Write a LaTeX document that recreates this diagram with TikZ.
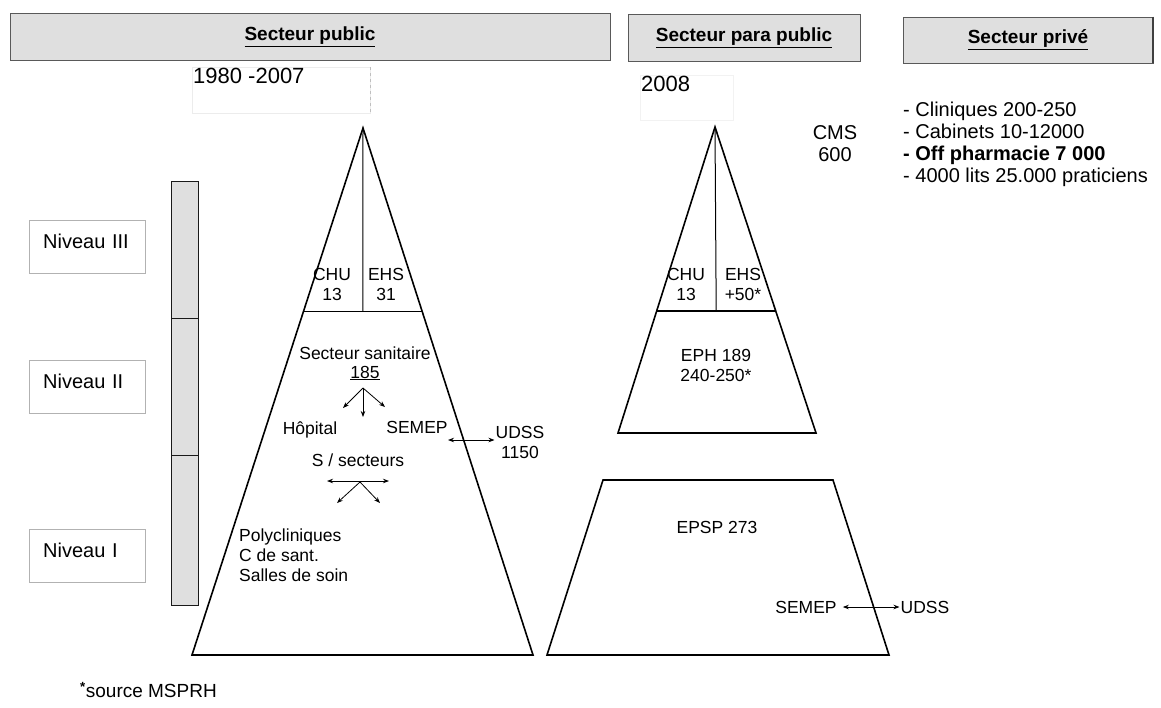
\documentclass[tikz,border=0pt]{standalone}
\usepackage{fontspec}
\setmainfont{Liberation Sans}
\usepackage{tikz}
\usetikzlibrary{arrows.meta,positioning,calc}

\tikzset{
	hdr/.style={draw=gray!70!black, thick, fill=gray!25, minimum height=47pt, font=\bfseries\fontsize{19}{22}\selectfont},
	lvl/.style={draw=gray!60, minimum width=116pt, minimum height=53pt, text width=88pt, inner xsep=14pt, align=left, text depth=10pt, font=\fontsize{20}{24}\selectfont},
	lbl/.style={font=\fontsize{17.5}{20}\selectfont, align=center, inner sep=1pt},
	pyr/.style={line width=1.6pt},
	tip/.style={-{Stealth[length=6pt,width=4.5pt]}, line width=0.8pt},
	both/.style={{Stealth[length=6pt,width=4.5pt]}-{Stealth[length=6pt,width=4.5pt]}, line width=0.8pt}
}

\begin{document}
\begin{tikzpicture}[x=1pt, y=-1pt]
		\useasboundingbox (0,0) rectangle (1161,707);
		\node[hdr, minimum width=600pt] (pub) at (310,36.5) {\underline{Secteur public}};
		\node[hdr, minimum width=232pt] (para) at (744,37.5) {\underline{Secteur para public}};
		\node[hdr, minimum width=250pt, minimum height=46pt] (prive) at (1028,40) {\underline{Secteur privé}};
		\draw[line width=2pt, gray!50!black] (prive.north east) -- (prive.south east);
		\node[draw=gray!15, minimum width=178pt, minimum height=46pt, anchor=north west] (per1) at (192,67) {};
		\draw[gray!50, dashed] (per1.north east) -- (per1.south east);
		\node[font=\fontsize{22}{26}\selectfont, anchor=north west, inner sep=1pt] (per1txt) at (per1.north west) {1980 -2007};
		\node[draw=gray!10, minimum width=93pt, minimum height=45pt, anchor=north west] (per2) at (640,75) {};
		\node[font=\fontsize{22}{26}\selectfont, anchor=north west, inner sep=1pt] (per2txt) at (per2.north west) {2008};
		\draw[thick, draw=gray!20!black, fill=gray!25] (171,181) rectangle (198,605);
		\draw[thick, draw=gray!20!black] (171,318) -- (198,318) (171,455) -- (198,455);
		\node[lvl, anchor=north west] (niv3) at (29,220) {Niveau III};
		\node[lvl, anchor=north west] (niv2) at (29,360) {Niveau II};
		\node[lvl, anchor=north west] (niv1) at (29,529) {Niveau I};
		\coordinate (topL) at (363,128);
		\coordinate (blL) at (192,655);
		\coordinate (brL) at (533,655);
		\draw[pyr] (topL) -- (brL) -- (blL) -- cycle;
		\draw[pyr] ($(topL)!0.348!(blL)$) coordinate (divLa) -- ($(topL)!0.348!(brL)$) coordinate (divLb);
		\draw[line width=1pt] (topL) -- ($(divLa)!0.5!(divLb)$);
		\node[lbl] (chuL) at (332,284) {CHU\\13};
		\node[lbl] (ehsL) at (386,284) {EHS\\31};
		\node[lbl] (ss) at (365,353) {Secteur sanitaire};
		\node[lbl, below=4pt of ss] (ssn) {\underline{185}};
		\coordinate (forkA) at (363,388);
		\coordinate (forkAl) at (343,408);
		\coordinate (forkAm) at (363,417);
		\coordinate (forkAr) at (385,407);
		\draw[tip] (forkA) -- (forkAl);
		\draw[tip] (forkA) -- (forkAm);
		\draw[tip] (forkA) -- (forkAr);
		\node[lbl] (hop) at (310,430) {Hôpital};
		\node[lbl] (semep) at (417,427) {SEMEP};
		\node[lbl] (udss) at (520,442) {UDSS\\1150};
		\coordinate (semepEnd) at (448,440);
		\draw[both] (semepEnd) -- (udss.west |- semepEnd);
		\node[lbl] (ssect) at (358,460) {S / secteurs};
		\coordinate (ssL) at (327,481);
		\coordinate (ssR) at (389,481);
		\coordinate (forkB) at (360,482);
		\coordinate (forkBl) at (337,503);
		\coordinate (forkBr) at (380,503);
		\draw[both] (ssL) -- (ssR);
		\draw[tip] (forkB) -- (forkBl);
		\draw[tip] (forkB) -- (forkBr);
		\node[lbl, align=left, anchor=west] (poly) at (238,555) {Polycliniques\\C de sant.\\Salles de soin};
		\coordinate (topR) at (715,127);
		\coordinate (blR) at (618,433);
		\coordinate (brR) at (816,433);
		\draw[pyr] (topR) -- (brR) -- (blR) -- cycle;
		\draw[pyr] ($(topR)!0.601!(blR)$) coordinate (divRa) -- ($(topR)!0.601!(brR)$) coordinate (divRb);
		\draw[line width=1pt] (topR) -- ($(divRa)!0.5!(divRb)$);
		\node[lbl] (chuR) at (686,284) {CHU\\13};
		\node[lbl] (ehsR) at (743,284) {EHS\\+50*};
		\node[lbl] (eph) at (716,365) {EPH 189\\240-250*};
		\coordinate (tlT) at (603,480);
		\coordinate (trT) at (833,480);
		\coordinate (brT) at (889,655);
		\coordinate (blT) at (547,655);
		\draw[pyr] (tlT) -- (trT) -- (brT) -- (blT) -- cycle;
		\node[lbl] (epsp) at (717,527) {EPSP 273};
		\node[lbl] (semepB) at (806,607) {SEMEP};
		\node[lbl] (udssB) at (925,607) {UDSS};
		\draw[both, shorten <=5pt] (semepB) -- (udssB);
		\node[font=\fontsize{20}{22}\selectfont, align=center] (cms) at (835,144) {CMS\\600};
		\node[font=\fontsize{20}{22}\selectfont, align=left, anchor=north west, inner sep=0pt] (liste) at (903,102) {- Cliniques 200-250\\- Cabinets 10-12000\\\textbf{- Off pharmacie 7 000}\\- 4000 lits 25.000 praticiens};
		\node[font=\fontsize{19}{22}\selectfont, anchor=west, inner sep=0pt] (src) at (80,690) {\textsuperscript{\textbf{*}}source MSPRH};
	\end{tikzpicture}
\end{document}
